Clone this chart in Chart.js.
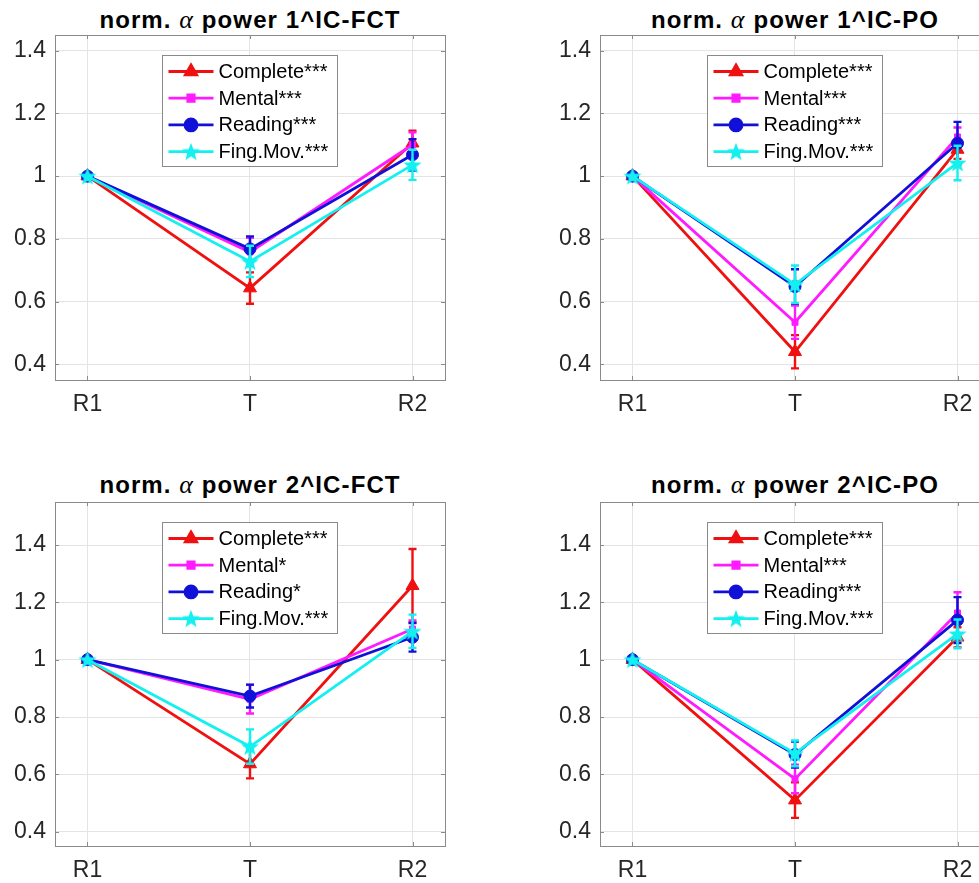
<!DOCTYPE html>
<html>
<head>
<meta charset="utf-8">
<script src="https://cdn.jsdelivr.net/npm/chart.js@4/dist/chart.umd.min.js"></script>
<style>
  html, body { margin:0; padding:0; background:#fff; }
  body { width:979px; height:883px; overflow:hidden; position:relative; }
  canvas { position:absolute; }
  .title { position:absolute; width:440px; text-align:center; font-family:"Liberation Sans", Arial, sans-serif;
           font-weight:bold; font-size:24px; letter-spacing:1.1px; line-height:28px; color:#000; white-space:nowrap; }
  .title i { font-family:"Liberation Serif", "DejaVu Serif", serif; font-weight:normal; font-style:italic; font-size:26px; }
</style>
</head>
<body>
<script>
// ---------------- DATA ----------------
const categories = ['R1', 'T', 'R2'];
const seriesNames = ['Complete', 'Mental', 'Reading', 'Fing.Mov.'];
const yTickValues = [0.4, 0.6, 0.8, 1.0, 1.2, 1.4];
const panelTitles = ['1^IC-FCT', '1^IC-PO', '2^IC-FCT', '2^IC-PO'];

const sig_1FCT = ['***', '***', '***', '***'];
const sig_1PO  = ['***', '***', '***', '***'];
const sig_2FCT = ['***', '*', '*', '***'];
const sig_2PO  = ['***', '***', '***', '***'];

// panel 1: 1^IC-FCT
const fct1_complete = [1, 0.643, 1.105];
const fct1_mental   = [1, 0.758, 1.100];
const fct1_reading  = [1, 0.768, 1.068];
const fct1_fing     = [1, 0.728, 1.036];
const fct1_complete_err = [0, 0.05, 0.04];
const fct1_mental_err   = [0, 0.045, 0.04];
const fct1_reading_err  = [0, 0.04, 0.05];
const fct1_fing_err     = [0, 0.05, 0.048];

// panel 2: 1^IC-PO
const po1_complete = [1, 0.440, 1.085];
const po1_mental   = [1, 0.534, 1.125];
const po1_reading  = [1, 0.648, 1.105];
const po1_fing     = [1, 0.655, 1.042];
const po1_complete_err = [0, 0.053, 0.03];
const po1_mental_err   = [0, 0.053, 0.03];
const po1_reading_err  = [0, 0.055, 0.068];
const po1_fing_err     = [0, 0.06, 0.055];

// panel 3: 2^IC-FCT
const fct2_complete = [1, 0.636, 1.258];
const fct2_mental   = [1, 0.862, 1.107];
const fct2_reading  = [1, 0.873, 1.078];
const fct2_fing     = [1, 0.697, 1.099];
const fct2_complete_err = [0, 0.05, 0.128];
const fct2_mental_err   = [0, 0.05, 0.03];
const fct2_reading_err  = [0, 0.04, 0.05];
const fct2_fing_err     = [0, 0.06, 0.058];

// panel 4: 2^IC-PO
const po2_complete = [1, 0.510, 1.078];
const po2_mental   = [1, 0.584, 1.163];
const po2_reading  = [1, 0.669, 1.138];
const po2_fing     = [1, 0.673, 1.090];
const po2_complete_err = [0, 0.062, 0.035];
const po2_mental_err   = [0, 0.05, 0.072];
const po2_reading_err  = [0, 0.045, 0.08];
const po2_fing_err     = [0, 0.045, 0.05];

// ---------------- STYLE / LAYOUT ----------------
const seriesColors = ['#f01010', '#ff1aff', '#1010d8', '#14f0f0'];
const FONT = '"Liberation Sans", Arial, sans-serif';

// filled five-pointed star marker (MATLAB pentagram)
function makeStar(color, size) {
  const c = document.createElement('canvas');
  c.width = size; c.height = size;
  const g = c.getContext('2d');
  const cx = size / 2, cy = size / 2 + 0.8, R = size / 2 - 0.5, r = R * 0.42;
  g.beginPath();
  for (let k = 0; k < 10; k++) {
    const rad = k % 2 === 0 ? R : r;
    const ang = -Math.PI / 2 + k * Math.PI / 5;
    const x = cx + rad * Math.cos(ang), y = cy + rad * Math.sin(ang);
    k === 0 ? g.moveTo(x, y) : g.lineTo(x, y);
  }
  g.closePath();
  g.fillStyle = color;
  g.fill();
  return c;
}
const starMarker = makeStar(seriesColors[3], 20);
const starLegend = makeStar(seriesColors[3], 20);

const seriesMarkers = [
  { style: 'triangle', r: 7.5, lr: 6.5 },
  { style: 'rect', r: 4.2, lr: 4.5 },
  { style: 'circle', r: 6, lr: 6 },
  { style: starMarker, r: 8, lr: 8 }
];

const panels = [
  { title: panelTitles[0], sig: sig_1FCT, vals: [fct1_complete, fct1_mental, fct1_reading, fct1_fing],
    errs: [fct1_complete_err, fct1_mental_err, fct1_reading_err, fct1_fing_err],
    left: 0, top: 0, width: 460, height: 420, padTop: 35, padRight: 15, xH: 40, yMax: 1.45, titleY: 6 },
  { title: panelTitles[1], sig: sig_1PO, vals: [po1_complete, po1_mental, po1_reading, po1_fing],
    errs: [po1_complete_err, po1_mental_err, po1_reading_err, po1_fing_err],
    left: 545, top: 0, width: 465, height: 420, padTop: 35, padRight: 20, xH: 40, yMax: 1.45, titleY: 6 },
  { title: panelTitles[2], sig: sig_2FCT, vals: [fct2_complete, fct2_mental, fct2_reading, fct2_fing],
    errs: [fct2_complete_err, fct2_mental_err, fct2_reading_err, fct2_fing_err],
    left: 0, top: 460, width: 460, height: 423, padTop: 42, padRight: 15, xH: 37, yMax: 1.55, titleY: 471 },
  { title: panelTitles[3], sig: sig_2PO, vals: [po2_complete, po2_mental, po2_reading, po2_fing],
    errs: [po2_complete_err, po2_mental_err, po2_reading_err, po2_fing_err],
    left: 545, top: 460, width: 465, height: 423, padTop: 42, padRight: 20, xH: 37, yMax: 1.55, titleY: 471 }
];

// error bars, drawn per dataset so layering follows the series order
const errorBarPlugin = {
  id: 'errorBars',
  afterDatasetDraw(chart, args) {
    const ds = chart.data.datasets[args.index];
    if (!ds.errors) return;
    const ys = chart.scales.y;
    const ctx = chart.ctx;
    ctx.save();
    ctx.strokeStyle = ds.borderColor;
    ctx.lineWidth = 2.4;
    ds.data.forEach((d, i) => {
      const e = ds.errors[i];
      if (!e) return;
      const px = args.meta.data[i].x;
      const t = ys.getPixelForValue(d.y + e);
      const b = ys.getPixelForValue(d.y - e);
      ctx.beginPath();
      ctx.moveTo(px, t); ctx.lineTo(px, b);
      ctx.moveTo(px - 4, t); ctx.lineTo(px + 4, t);
      ctx.moveTo(px - 4, b); ctx.lineTo(px + 4, b);
      ctx.stroke();
    });
    ctx.restore();
  }
};

// axes box with inward tick marks (MATLAB style)
const boxPlugin = {
  id: 'axesBox',
  beforeDatasetsDraw(chart) {
    const { ctx, chartArea: a, scales } = chart;
    ctx.save();
    ctx.strokeStyle = '#8a8a8a';
    ctx.lineWidth = 1;
    ctx.strokeRect(Math.round(a.left) + 0.5, Math.round(a.top) + 0.5,
                   Math.round(a.right - a.left), Math.round(a.bottom - a.top));
    ctx.beginPath();
    scales.y.ticks.forEach(t => {
      const py = Math.round(scales.y.getPixelForValue(t.value)) + 0.5;
      ctx.moveTo(a.left, py); ctx.lineTo(a.left + 4, py);
      ctx.moveTo(a.right, py); ctx.lineTo(a.right - 4, py);
    });
    scales.x.ticks.forEach(t => {
      const px = Math.round(scales.x.getPixelForValue(t.value)) + 0.5;
      ctx.moveTo(px, a.top); ctx.lineTo(px, a.top + 4);
      ctx.moveTo(px, a.bottom); ctx.lineTo(px, a.bottom - 4);
    });
    ctx.stroke();
    ctx.restore();
  }
};

// legend box inside the axes
const insideLegendPlugin = {
  id: 'insideLegend',
  afterDraw(chart) {
    const { ctx, chartArea: a } = chart;
    const bx = Math.round(a.left + 107) + 0.5, by = Math.round(a.top + 20) + 0.5;
    const bw = 175, bh = 111;
    ctx.save();
    ctx.fillStyle = '#fff';
    ctx.fillRect(bx, by, bw, bh);
    ctx.strokeStyle = '#8a8a8a';
    ctx.lineWidth = 1;
    ctx.strokeRect(bx, by, bw, bh);
    ctx.font = '20px ' + FONT;
    ctx.textBaseline = 'middle';
    chart.data.datasets.forEach((ds, i) => {
      const yy = by + 16 + i * 26.7;
      ctx.strokeStyle = ds.borderColor;
      ctx.lineWidth = 2.8;
      ctx.beginPath();
      ctx.moveTo(bx + 6, yy); ctx.lineTo(bx + 51, yy);
      ctx.stroke();
      ctx.fillStyle = ds.borderColor;
      const ps = (typeof ds.pointStyle === 'string') ? ds.pointStyle : starLegend;
      Chart.helpers.drawPoint(ctx, { pointStyle: ps, radius: ds.legendRadius, rotation: 0, borderWidth: 1 }, bx + 28.5, yy);
      ctx.fillStyle = '#000';
      ctx.fillText(ds.label, bx + 56, yy + 1);
    });
    ctx.restore();
  }
};

panels.forEach((p) => {
  // title (real text, with italic alpha)
  const t = document.createElement('div');
  t.className = 'title';
  const plotLeft = p.left + 55;
  const plotRight = p.left + p.width - p.padRight;
  const cx = (plotLeft + plotRight) / 2;
  t.style.left = (cx - 220) + 'px';
  t.style.top = p.titleY + 'px';
  t.innerHTML = 'norm. <i>α</i> power ' + p.title;
  document.body.appendChild(t);

  const cv = document.createElement('canvas');
  cv.width = p.width; cv.height = p.height;
  cv.style.left = p.left + 'px'; cv.style.top = p.top + 'px';
  cv.style.width = p.width + 'px'; cv.style.height = p.height + 'px';
  document.body.appendChild(cv);

  const datasets = p.vals.map((vals, si) => ({
    label: seriesNames[si] + p.sig[si],
    data: vals.map((v, i) => ({ x: i + 1, y: v })),
    errors: p.errs[si],
    borderColor: seriesColors[si],
    backgroundColor: seriesColors[si],
    pointBackgroundColor: seriesColors[si],
    pointBorderColor: seriesColors[si],
    borderWidth: 2.8,
    pointStyle: seriesMarkers[si].style,
    pointRadius: seriesMarkers[si].r,
    legendRadius: seriesMarkers[si].lr,
    pointBorderWidth: 1,
    tension: 0,
    order: 3 - si
  }));

  new Chart(cv, {
    type: 'line',
    data: { datasets },
    options: {
      responsive: false,
      devicePixelRatio: 1,
      animation: false,
      layout: { padding: { top: p.padTop, right: p.padRight, left: 0, bottom: 0 } },
      plugins: { legend: { display: false }, tooltip: { enabled: false }, title: { display: false } },
      scales: {
        x: {
          type: 'linear', min: 0.8, max: 3.2,
          afterBuildTicks: s => { s.ticks = categories.map((c, i) => ({ value: i + 1 })); },
          afterFit: s => { s.height = p.xH; },
          ticks: { callback: v => categories[Math.round(v) - 1], font: { family: FONT, size: 23 }, color: '#262626', padding: 11, maxRotation: 0, autoSkip: false },
          grid: { color: '#e4e4e4', drawTicks: false },
          border: { display: false }
        },
        y: {
          type: 'linear', min: 0.35, max: p.yMax,
          afterBuildTicks: s => { s.ticks = yTickValues.map(v => ({ value: v })); },
          afterFit: s => { s.width = 55; },
          ticks: { callback: v => String(Math.round(v * 10) / 10), font: { family: FONT, size: 23 }, color: '#262626', padding: 9, autoSkip: false },
          grid: { color: '#e4e4e4', drawTicks: false },
          border: { display: false }
        }
      }
    },
    plugins: [boxPlugin, errorBarPlugin, insideLegendPlugin]
  });
});
</script>
</body>
</html>
